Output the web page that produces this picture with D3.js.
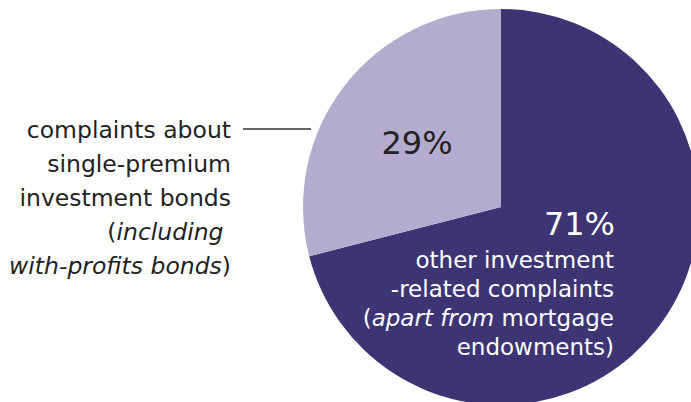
<!DOCTYPE html>
<html>
<head>
<meta charset="utf-8">
<script src="https://cdn.jsdelivr.net/npm/d3@7"></script>
<style>
  html, body { margin: 0; padding: 0; background: #fff; }
  svg { display: block; }
  text { font-family: "DejaVu Sans", "Noto Sans", sans-serif; }
</style>
</head>
<body>
<svg id="chart" width="691" height="402"></svg>
<script>
// Share of investment-related complaints
const categories = [
  "other investment-related complaints (apart from mortgage endowments)",
  "complaints about single-premium investment bonds (including with-profits bonds)"
];
const values = [71, 29];
const colors = ["#3d3474", "#b4accf"];

const svg = d3.select("#chart");
const cx = 501, cy = 207, radius = 198;

const pie = d3.pie().sort(null).value(d => d)(values);
const arc = d3.arc().innerRadius(0).outerRadius(radius);

const g = svg.append("g").attr("transform", `translate(${cx},${cy})`);
g.selectAll("path.slice")
  .data(pie)
  .join("path")
  .attr("class", "slice")
  .attr("d", arc)
  .attr("fill", (d, i) => colors[i]);

// percentage label inside the large slice, with its description below
svg.append("text")
  .attr("fill", "#ffffff")
  .attr("text-anchor", "end")
  .attr("x", 615).attr("y", 235)
  .attr("font-size", 32)
  .text(values[0] + "%");
const bigLines = [
  [{t: "other investment"}],
  [{t: "-related complaints"}],
  [{t: "(", i: false}, {t: "apart from", i: true}, {t: " mortgage", i: false}],
  [{t: "endowments)"}]
];
bigLines.forEach((parts, li) => {
  const line = svg.append("text")
    .attr("fill", "#ffffff")
    .attr("text-anchor", "end")
    .attr("x", 614)
    .attr("y", 268 + li * 29)
    .attr("font-size", 23);
  parts.forEach(p => {
    line.append("tspan")
      .attr("font-style", p.i ? "italic" : "normal")
      .text(p.t);
  });
});

// percentage label inside the small slice
svg.append("text")
  .attr("x", 417).attr("y", 154)
  .attr("text-anchor", "middle")
  .attr("font-size", 32)
  .attr("fill", "#222222")
  .text(values[1] + "%");

// description of the small slice, outside the pie, with a leader line
const smallLines = [
  [{t: "complaints about"}],
  [{t: "single-premium"}],
  [{t: "investment bonds"}],
  [{t: "(", i: false}, {t: "including", i: true}, {t: "\u00a0", i: false}],
  [{t: "with-profits bonds", i: true}, {t: ")", i: false}]
];
smallLines.forEach((parts, li) => {
  const line = svg.append("text")
    .attr("fill", "#222222")
    .attr("text-anchor", "end")
    .attr("x", 231)
    .attr("y", 138 + li * 34)
    .attr("font-size", 23.5);
  parts.forEach(p => {
    line.append("tspan")
      .attr("font-style", p.i ? "italic" : "normal")
      .text(p.t);
  });
});

svg.append("line")
  .attr("x1", 243).attr("x2", 311)
  .attr("y1", 129).attr("y2", 129)
  .attr("stroke", "#333333")
  .attr("stroke-width", 1.5);
</script>
</body>
</html>
